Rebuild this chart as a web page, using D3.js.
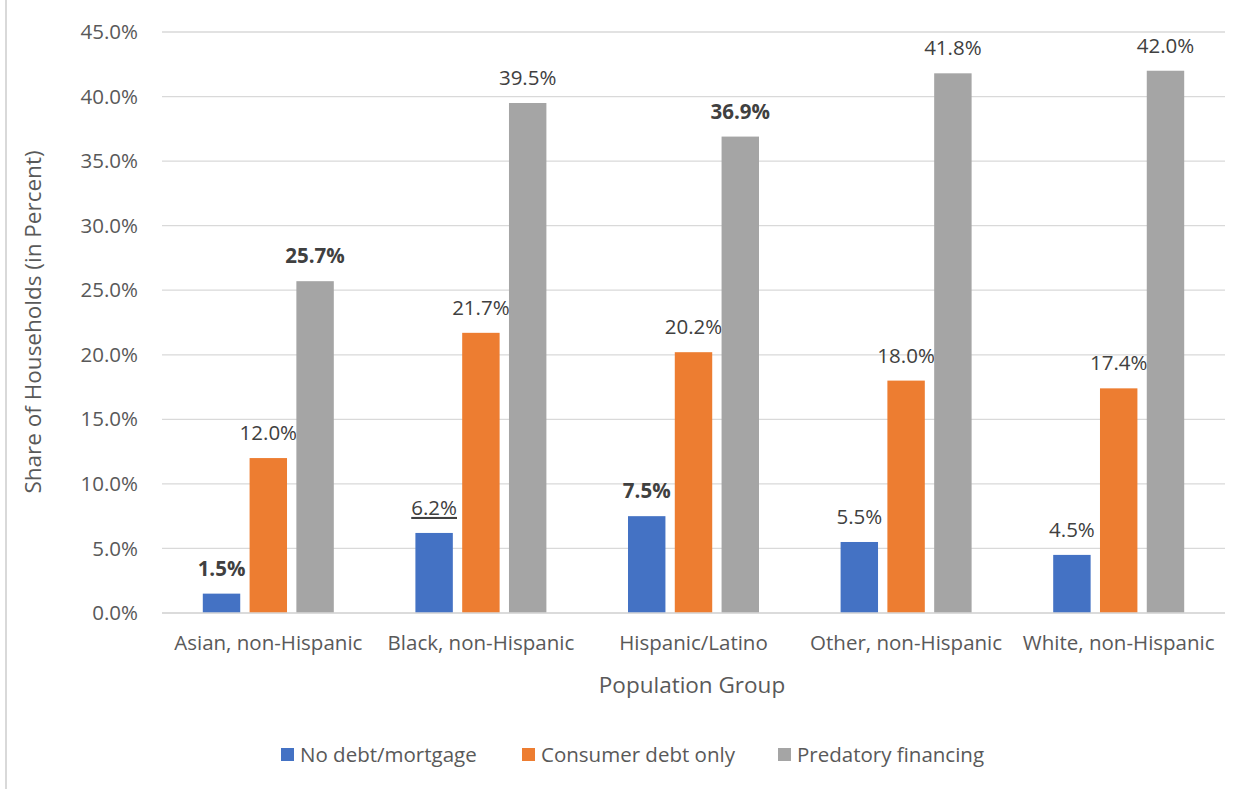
<!DOCTYPE html>
<html>
<head>
<meta charset="utf-8">
<script src="https://cdn.jsdelivr.net/npm/d3@7"></script>
<style>
  html, body { margin: 0; padding: 0; background: #fff; }
  svg text { font-family: "Open Sans", "Noto Sans", "Liberation Sans", sans-serif; }
</style>
</head>
<body>
<svg id="chart" width="1251" height="789"></svg>
<script>
// Population groups and share of households per debt type (percent)
const categories = ["Asian, non-Hispanic", "Black, non-Hispanic", "Hispanic/Latino", "Other, non-Hispanic", "White, non-Hispanic"];
const seriesNames = ["No debt/mortgage", "Consumer debt only", "Predatory financing"];
const noDebt = [1.5, 6.2, 7.5, 5.5, 4.5];
const consumerDebt = [12.0, 21.7, 20.2, 18.0, 17.4];
const predatory = [25.7, 39.5, 36.9, 41.8, 42.0];
const yTicks = [0, 5, 10, 15, 20, 25, 30, 35, 40, 45];
// Label emphasis per series/category: "b" bold, "u" underlined
const labelStyle = [
  ["b", "u", "b", "", ""],
  ["", "", "", "", ""],
  ["b", "", "b", "", ""]
];

const colors = ["#4472C4", "#ED7D31", "#A5A5A5"];
const values = [noDebt, consumerDebt, predatory];

const svg = d3.select("#chart");

// frame line at the left edge
svg.append("line").attr("x1", 6).attr("x2", 6).attr("y1", 0).attr("y2", 789)
  .attr("stroke", "#D9D9D9").attr("stroke-width", 2);

const plotLeft = 162, plotRight = 1225, plotTop = 32, plotBottom = 613;
const fs = 20.5;

const x0 = d3.scaleBand().domain(categories).range([plotLeft, plotRight]).paddingInner(0).paddingOuter(0);
const x1 = d3.scaleBand().domain(d3.range(3)).range([0, 131]).paddingInner(0.2);
const y = d3.scaleLinear().domain([0, 45]).range([plotBottom, plotTop]);

// gridlines
svg.append("g").selectAll("line").data(yTicks).join("line")
  .attr("x1", plotLeft).attr("x2", plotRight)
  .attr("y1", d => y(d)).attr("y2", d => y(d))
  .attr("stroke", "#D9D9D9").attr("stroke-width", 1.3);

// y axis labels
const yAxis = d3.axisLeft(y).tickValues(yTicks).tickFormat(d => d.toFixed(1) + "%").tickSize(0).tickPadding(0);
const gy = svg.append("g").attr("transform", `translate(${plotLeft - 24},0)`).call(yAxis);
gy.select(".domain").remove();
gy.selectAll("text").attr("font-size", fs).attr("fill", "#595959");

// bars
const groups = svg.append("g").selectAll("g").data(categories).join("g")
  .attr("transform", c => `translate(${x0(c) + x0.bandwidth() / 2 - 65.5},0)`);

groups.each(function(c, ci) {
  const g = d3.select(this);
  values.forEach((arr, si) => {
    const v = arr[ci];
    g.append("rect")
      .attr("x", x1(si)).attr("width", x1.bandwidth())
      .attr("y", y(v)).attr("height", y(0) - y(v))
      .attr("fill", colors[si]);
    const st = labelStyle[si][ci];
    const t = g.append("text")
      .attr("x", x1(si) + x1.bandwidth() / 2)
      .attr("y", y(v) - 18)
      .attr("text-anchor", "middle")
      .attr("font-size", fs)
      .attr("fill", "#404040")
      .attr("font-weight", st === "b" ? "bold" : "normal")
      .text(v.toFixed(1) + "%");
    if (st === "u") t.attr("text-decoration", "underline");
  });
});

// x axis baseline
svg.append("line").attr("x1", plotLeft).attr("x2", plotRight).attr("y1", plotBottom).attr("y2", plotBottom)
  .attr("stroke", "#D9D9D9").attr("stroke-width", 1.3);

// x axis labels
const xAxis = d3.axisBottom(x0).tickSize(0).tickPadding(0);
const gx = svg.append("g").attr("transform", `translate(0,${plotBottom + 22})`).call(xAxis);
gx.select(".domain").remove();
gx.selectAll("text").attr("font-size", fs).attr("fill", "#595959").attr("dy", "0.71em");

// axis titles
svg.append("text").attr("x", 692).attr("y", 693).attr("text-anchor", "middle")
  .attr("font-size", 22.5).attr("fill", "#595959").text("Population Group");
svg.append("text").attr("transform", "translate(41,322) rotate(-90)").attr("text-anchor", "middle")
  .attr("font-size", 22.5).attr("fill", "#595959").text("Share of Households (in Percent)");

// legend
const legendX = [281, 522, 778];
const lg = svg.append("g").selectAll("g").data(seriesNames).join("g")
  .attr("transform", (d, i) => `translate(${legendX[i]},748)`);
lg.append("rect").attr("width", 13).attr("height", 13).attr("fill", (d, i) => colors[i]);
lg.append("text").attr("x", 19).attr("y", 14).attr("font-size", fs).attr("fill", "#595959").text(d => d);
</script>
</body>
</html>
